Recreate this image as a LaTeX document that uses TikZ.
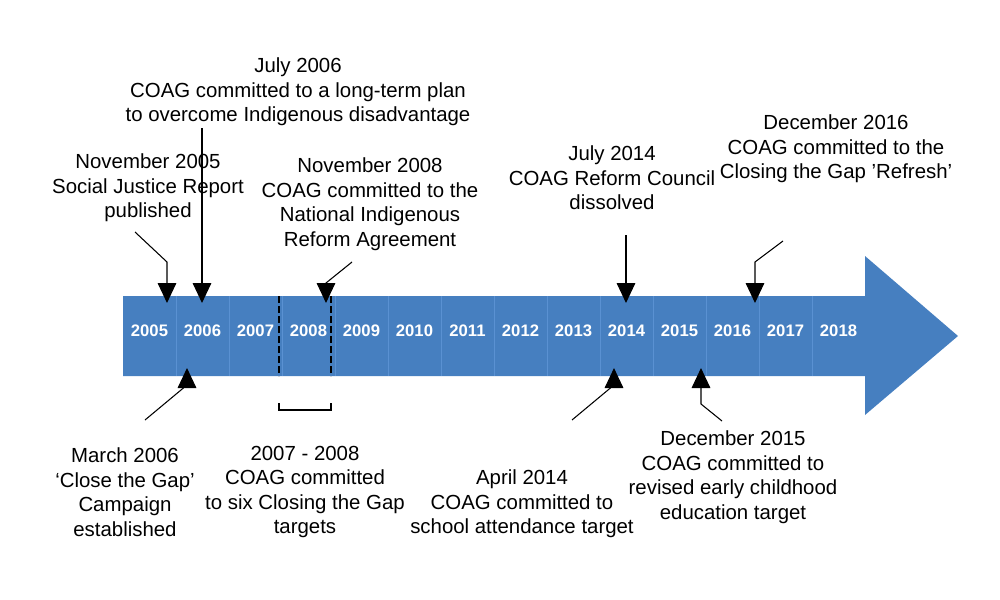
\documentclass[tikz,border=0pt]{standalone}
\usepackage{fontspec}
\setmainfont{Liberation Sans}
\usetikzlibrary{arrows.meta}
\definecolor{band}{RGB}{70,127,192}
\definecolor{sep}{RGB}{90,145,210}
\tikzset{
  lbl/.style={align=center,font=\fontsize{15.3}{18.4}\selectfont,inner sep=0pt},
  yr/.style={text=white,font=\fontsize{12.5}{14}\selectfont\bfseries,inner sep=0pt},
  conn/.style={line width=0.8pt,-{Triangle[width=14pt,length=15pt]}},
  dsh/.style={dash pattern=on 5pt off 2.5pt,line width=1.5pt},
}
\begin{document}
\begin{tikzpicture}[x=0.75pt,y=-0.75pt]
\useasboundingbox (0,0) rectangle (1000,600);
\fill[band] (123,296) -- (865,296) -- (865,256) -- (958,336) -- (865,415) -- (865,376) -- (123,376) -- cycle;
\foreach \i in {1,...,13} \draw[sep,line width=0.5pt] (123+53*\i,296) -- (123+53*\i,376);
\foreach \y [count=\i from 0] in {2005,...,2018}
  \node[yr] (y\y) at (149.5+53*\i,331) {\y};
\draw[dsh] (279,296) -- (279,376);
\draw[dsh] (331,296) -- (331,376);
\draw[line width=1pt] (279,403) -- (279,410) -- (331,410) -- (331,403);
% top labels
\node[lbl] (t1) at (148,188) {November 2005\\Social Justice Report\\published};
\node[lbl] (t2) at (298,92) {July 2006\\COAG committed to a long-term plan\\to overcome Indigenous disadvantage};
\node[lbl] (t3) at (370,204) {November 2008\\COAG committed to the\\National Indigenous\\Reform Agreement};
\node[lbl] (t4) at (612,178) {July 2014\\COAG Reform Council\\dissolved};
\node[lbl] (t5) at (836,149) {December 2016\\COAG committed to the\\Closing the Gap \char"0027Refresh\char"0027};
% bottom labels
\node[lbl] (b1) at (125,492) {March 2006\\‘Close the Gap’\\Campaign\\established};
\node[lbl] (b2) at (305,492) {2007 - 2008\\COAG committed\\to six Closing the Gap\\targets};
\node[lbl] (b3) at (522,504) {April 2014\\COAG committed to\\school attendance target};
\node[lbl] (b4) at (733,477) {December 2015\\COAG committed to\\revised early childhood\\education target};
% coordinates
\coordinate (a1s) at (135,232); \coordinate (a1e) at (167,303);
\coordinate (a2s) at (202,128); \coordinate (a2e) at (202,303);
\coordinate (a3s) at (352,262); \coordinate (a3e) at (326,303);
\coordinate (a4s) at (626,235); \coordinate (a4e) at (626,303);
\coordinate (a5s) at (783,241); \coordinate (a5e) at (755,303);
\coordinate (c1s) at (145,420); \coordinate (c1e) at (187,368);
\coordinate (c3s) at (572,420); \coordinate (c3e) at (614,368);
\coordinate (c4s) at (722,421); \coordinate (c4e) at (701,368);
\draw[conn] (a1s) -- (167,262) -- (a1e);
\draw[conn] (a2s) -- (a2e);
\draw[conn] (a3s) -- (326,283) -- (a3e);
\draw[conn] (a4s) -- (a4e);
\draw[conn] (a5s) -- (755,262) -- (a5e);
\draw[conn] (c1s) -- (187,385) -- (c1e);
\draw[conn] (c3s) -- (614,385) -- (c3e);
\draw[conn] (c4s) -- (701,404) -- (c4e);
\end{tikzpicture}
\end{document}
